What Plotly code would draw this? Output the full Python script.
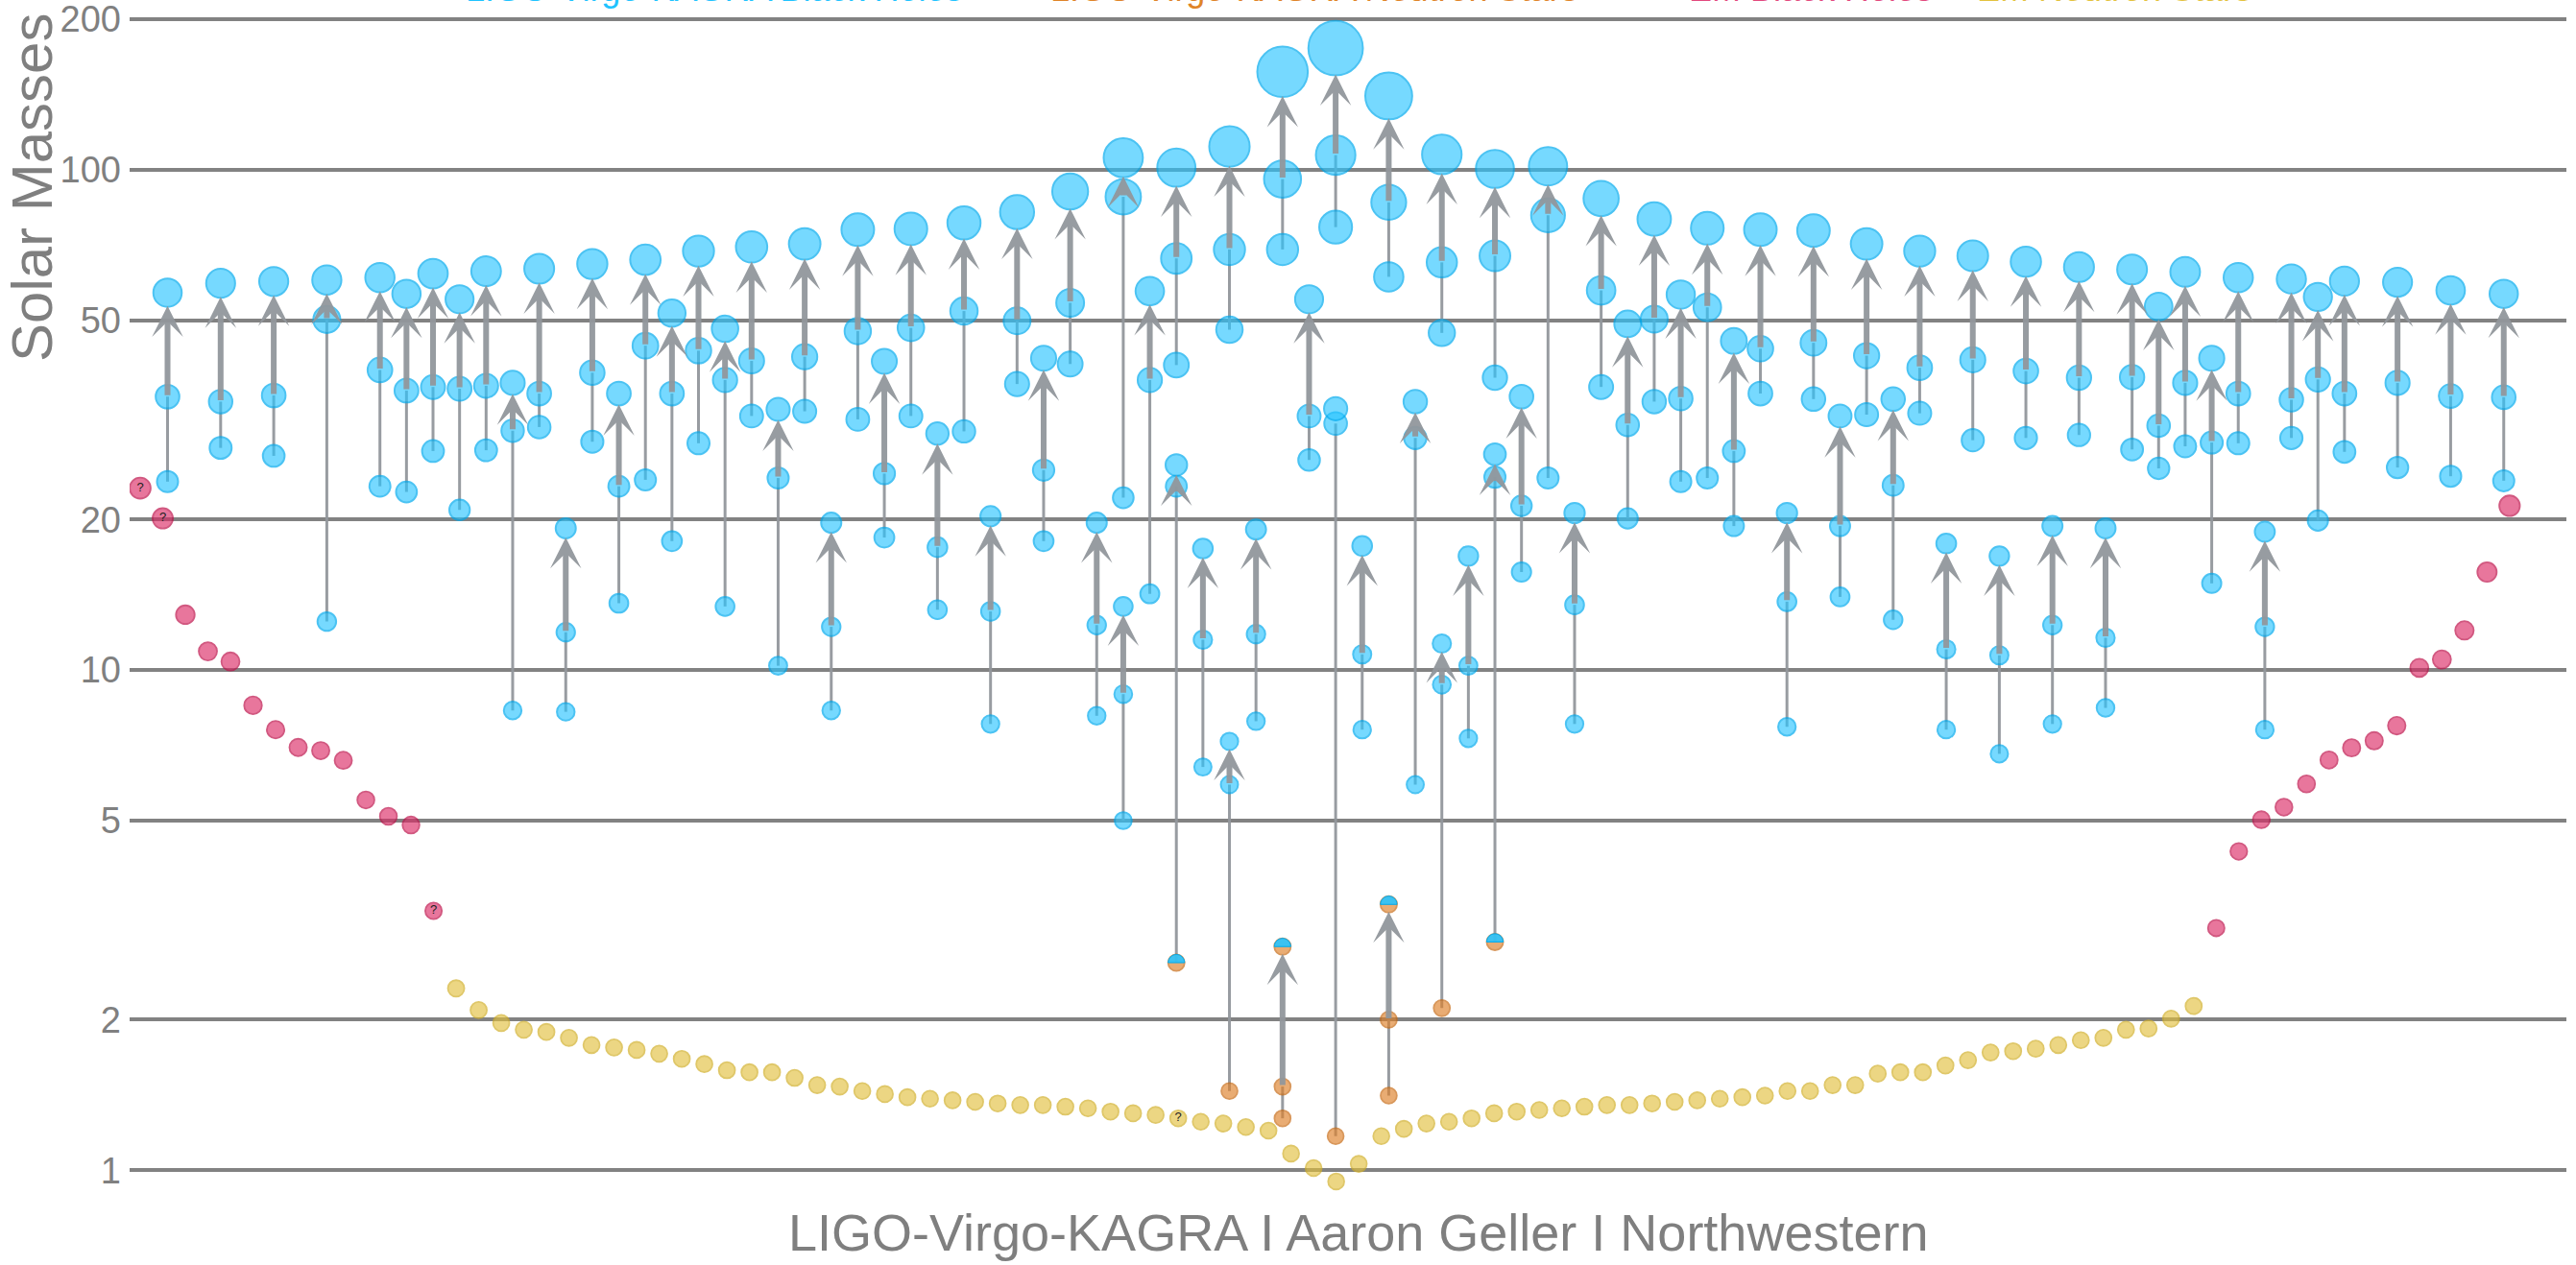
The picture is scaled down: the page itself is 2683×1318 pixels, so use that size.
import math
import plotly.graph_objects as go

# ---------------- data ----------------
tick_values = [1, 2, 5, 10, 20, 50, 100, 200]
tick_labels = ["1", "2", "5", "10", "20", "50", "100", "200"]

# LIGO-Virgo-KAGRA binary black hole mergers (column slot, final mass, primary, secondary)
bbh_slot = [0, 2, 4, 6, 8, 9, 10, 11, 12, 13, 14, 15, 16, 17, 18, 19, 20, 21, 22, 23,
            24, 25, 26, 27, 28, 29, 30, 31, 32, 33, 34, 35, 36, 36, 37, 38, 39, 40, 41, 42,
            43, 44, 45, 46, 47, 48, 49, 50, 51, 52, 53, 54, 55, 56, 57, 58, 59, 60, 61, 62,
            63, 64, 65, 66, 67, 68, 69, 70, 71, 72, 73, 74, 75, 76, 77, 78, 79, 80, 81, 82,
            84, 86, 88]
bbh_final = [56.8, 59.3, 59.8, 60.2, 60.9, 56.5, 62.0, 55.1, 62.7, 37.5, 63.4, 19.2, 64.8, 35.7, 66.1, 51.7, 68.8, 48.1, 70.1, 33.2,
             71.1, 19.7, 75.9, 41.4, 76.2, 29.7, 78.3, 20.3, 82.3, 42.0, 90.5, 19.7, 105.7, 13.4, 57.2, 101.0, 17.5, 111.3, 19.1, 157.0,
             55.1, 175.0, 17.7, 140.5, 34.4, 107.3, 16.9, 100.4, 35.2, 101.6, 20.6, 87.6, 49.2, 79.7, 56.3, 76.4, 45.5, 75.9, 20.6, 75.6,
             32.2, 71.1, 34.8, 68.8, 17.9, 67.3, 16.9, 65.5, 19.4, 63.9, 19.2, 63.2, 53.3, 62.5, 42.0, 60.9, 18.9, 60.5, 55.7, 59.9,
             59.6, 57.4, 56.5]
bbh_primary = [35.2, 34.4, 35.4, 50.2, 39.8, 36.2, 36.8, 36.5, 37.0, 30.1, 35.7, 11.9, 39.3, 23.3, 44.5, 35.7, 43.5, 38.0, 41.5, 24.2,
               42.3, 12.2, 47.6, 24.7, 48.3, 17.6, 52.2, 13.1, 49.9, 25.1, 54.2, 12.3, 88.3, 8.95, 38.0, 66.5, 11.5, 69.3, 11.8, 95.8,
               32.2, 107.0, 10.75, 86.1, 29.1, 65.3, 10.2, 67.3, 21.3, 81.1, 13.5, 57.4, 30.9, 50.3, 34.9, 53.1, 27.4, 43.9, 13.7, 45.1,
               19.4, 42.5, 23.4, 40.2, 11.0, 41.7, 10.7, 39.6, 12.3, 38.4, 11.6, 38.5, 30.8, 37.5, 28.5, 35.7, 12.2, 34.7, 38.1, 35.7,
               37.5, 35.3, 35.1]
bbh_secondary = [23.8, 27.8, 26.8, 12.5, 23.3, 22.7, 27.4, 20.9, 27.5, 8.3, 30.6, 8.25, 28.6, 13.6, 24.0, 18.1, 28.4, 13.4, 32.2, 10.2,
                 32.9, 8.3, 31.7, 18.4, 32.2, 13.2, 30.0, 7.8, 37.3, 18.1, 40.9, 8.1, 22.1, 5.0, 14.2, 40.7, 6.4, 47.9, 7.9, 69.3,
                 26.3, 76.8, 7.6, 61.1, 5.9, 47.2, 7.3, 38.4, 15.7, 24.2, 7.8, 36.8, 20.1, 34.4, 23.8, 24.2, 19.4, 35.7, 7.7, 34.8,
                 14.0, 32.4, 12.6, 32.6, 7.6, 28.8, 6.8, 29.1, 7.8, 29.5, 8.4, 27.6, 25.3, 28.0, 14.9, 28.4, 7.6, 29.1, 19.9, 27.3,
                 25.4, 24.4, 23.9]

# LIGO-Virgo-KAGRA events involving neutron stars or mass-gap objects
ns_slot = [38, 40, 42, 44, 46, 48, 50]
ns_final = [25.7, 7.2, 2.8, 33.3, 3.4, 11.3, 27.0]
ns_primary = [23.3, 5.9, 1.47, 31.1, 2.0, 9.35, 24.3]
ns_secondary = [2.6, 1.44, 1.27, 1.17, 1.41, 2.11, 2.86]
ns_final_kind = ["BH", "BH", "GAP", "BH", "GAP", "BH", "BH"]
ns_primary_kind = ["BH", "BH", "NS", "BH", "NS", "BH", "BH"]
ns_secondary_kind = ["GAP", "NS", "NS", "NS", "NS", "NS", "GAP"]

# Electromagnetically observed objects, left to right
em_bh_left = [23.1, 20.1, 12.9, 10.9, 10.4, 8.5, 7.6, 7.0, 6.9, 6.6, 5.5, 5.1, 4.9, 3.3]
em_ns = [2.31, 2.09, 1.97, 1.91, 1.89, 1.84, 1.78, 1.76, 1.74, 1.71, 1.67, 1.63, 1.585, 1.57, 1.57, 1.53, 1.48, 1.47, 1.44,
         1.42, 1.40, 1.39, 1.38, 1.37, 1.36, 1.35, 1.35, 1.34, 1.33, 1.31, 1.30, 1.29, 1.27, 1.25, 1.24, 1.22, 1.20, 1.08,
         1.01, 0.95, 1.03, 1.17, 1.21, 1.24, 1.25, 1.27, 1.30, 1.31, 1.32, 1.33, 1.34, 1.35, 1.35, 1.36, 1.37, 1.38, 1.39,
         1.40, 1.41, 1.44, 1.44, 1.48, 1.48, 1.56, 1.57, 1.57, 1.62, 1.66, 1.72, 1.73, 1.75, 1.78, 1.82, 1.84, 1.91, 1.92,
         2.01, 2.13]
em_bh_right = [3.05, 4.34, 5.02, 5.32, 5.92, 6.61, 6.99, 7.22, 7.74, 10.1, 10.5, 12.0, 15.7, 21.3]
em_uncertain = [0, 1, 13, 46]

legend_labels = ["LIGO-Virgo-KAGRA Black Holes", "LIGO-Virgo-KAGRA Neutron Stars",
                 "EM Black Holes", "EM Neutron Stars"]
credit_text = "LIGO-Virgo-KAGRA I Aaron Geller I Northwestern"
axis_title = "Solar Masses"

# ---------------- style ----------------
FONT = "Liberation Sans, Arial, Helvetica, sans-serif"
GRAY_TXT = "#7f7f7f"
BLUE = "rgba(40,196,255,0.9)"
BLUE_LINE = "rgba(0,170,238,1)"
ORANGE = "rgba(222,128,40,0.92)"
ORANGE_LINE = "rgba(200,108,22,1)"
PINK = "rgba(220,40,100,0.9)"
PINK_LINE = "rgba(190,18,75,1)"
YELLOW = "rgba(226,192,60,0.9)"
YELLOW_LINE = "rgba(210,176,42,1)"
ARROW = "rgba(146,151,156,0.95)"
EM_X0 = -1.03
EM_DX = 0.85


def dot_size(m):
    return 16.5 + 0.23 * m


# ---------------- assemble events ----------------
events = []
for s, f, p, q in zip(bbh_slot, bbh_final, bbh_primary, bbh_secondary):
    events.append((s, f, p, q, "BH", "BH", "BH"))
for s, f, p, q, kf, kp, kq in zip(ns_slot, ns_final, ns_primary, ns_secondary,
                                  ns_final_kind, ns_primary_kind, ns_secondary_kind):
    events.append((s, f, p, q, kf, kp, kq))

fig = go.Figure()

# thin connecting lines secondary -> primary
lx, ly = [], []
for s, f, p, q, *_ in events:
    lx += [s, s, None]
    ly += [q, p, None]
fig.add_trace(go.Scatter(x=lx, y=ly, mode="lines", line=dict(color=ARROW, width=3),
                         hoverinfo="skip"))

# EM points
em_mass = em_bh_left + em_ns + em_bh_right
em_x = [EM_X0 + EM_DX * j for j in range(len(em_mass))]
n_left = len(em_bh_left)
n_ns = len(em_ns)
bh_idx = list(range(n_left)) + list(range(n_left + n_ns, len(em_mass)))
ns_idx = list(range(n_left, n_left + n_ns))
fig.add_trace(go.Scatter(
    x=[em_x[j] for j in bh_idx], y=[em_mass[j] for j in bh_idx], mode="markers",
    marker=dict(color=PINK, size=[dot_size(em_mass[j]) for j in bh_idx],
                line=dict(color=PINK_LINE, width=1.8)), hoverinfo="skip"))
fig.add_trace(go.Scatter(
    x=[em_x[j] for j in ns_idx], y=[em_mass[j] for j in ns_idx], mode="markers",
    marker=dict(color=YELLOW, size=[dot_size(em_mass[j]) for j in ns_idx],
                line=dict(color=YELLOW_LINE, width=1.8)), hoverinfo="skip"))
fig.add_trace(go.Scatter(
    x=[em_x[j] for j in em_uncertain], y=[em_mass[j] for j in em_uncertain], mode="text",
    text=["?"] * len(em_uncertain), textfont=dict(size=13, color="#222222", family=FONT),
    hoverinfo="skip"))

# LVK markers
bx, by, bs = [], [], []
ox, oy, os_ = [], [], []
gap_points = []
for s, f, p, q, kf, kp, kq in events:
    for m, k in ((q, kq), (p, kp), (f, kf)):
        if k == "BH":
            bx.append(s); by.append(m); bs.append(dot_size(m))
        else:
            ox.append(s); oy.append(m); os_.append(dot_size(m))
            if k == "GAP":
                gap_points.append((s, m))

fig.add_trace(go.Scatter(x=bx, y=by, mode="markers",
                         marker=dict(color=BLUE, size=bs, line=dict(color=BLUE_LINE, width=2)),
                         hoverinfo="skip"))
fig.add_trace(go.Scatter(x=ox, y=oy, mode="markers",
                         marker=dict(color=ORANGE, size=os_, line=dict(color=ORANGE_LINE, width=1.8)),
                         hoverinfo="skip"))

# half blue tops for mass-gap objects
shapes = []
k = 0.5523
for s, m in gap_points:
    r = dot_size(m) / 2
    path = (f"M{-r:.2f},0 C{-r:.2f},{k*r:.2f} {-k*r:.2f},{r:.2f} 0,{r:.2f} "
            f"C{k*r:.2f},{r:.2f} {r:.2f},{k*r:.2f} {r:.2f},0 Z")
    shapes.append(dict(type="path", xref="x", yref="y", xsizemode="pixel", ysizemode="pixel",
                       xanchor=s, yanchor=m, path=path, fillcolor=BLUE,
                       line=dict(color=BLUE_LINE, width=1), layer="above"))

# arrows primary -> final
annotations = []
for s, f, p, q, *_ in events:
    annotations.append(dict(
        x=s, y=math.log10(f), ax=s, ay=math.log10(p), xref="x", yref="y", axref="x", ayref="y",
        text="", showarrow=True, arrowhead=3, arrowwidth=6, arrowsize=0.9,
        arrowcolor=ARROW, standoff=dot_size(f) / 2 - 1))

# legend texts (cropped at top of image)
PLOT_L, PLOT_W, H = 135, 2538, 1318
legend_colors = ["#1fc3ff", "#df8428", "#e2487e", "#e3c23e"]
legend_centers_px = [744, 1369, 1886, 2202]
for lab, col, cx in zip(legend_labels, legend_colors, legend_centers_px):
    annotations.append(dict(text=lab, xref="paper", yref="paper", x=(cx - PLOT_L) / PLOT_W,
                            y=1 + 11 / H, xanchor="center", yanchor="middle", showarrow=False,
                            font=dict(size=36, color=col, family=FONT)))

annotations.append(dict(text=credit_text, xref="paper", yref="paper", x=(1414 - PLOT_L) / PLOT_W,
                        y=(H - 1284) / H, xanchor="center", yanchor="middle", showarrow=False,
                        font=dict(size=54, color=GRAY_TXT, family=FONT)))
annotations.append(dict(text=axis_title, xref="paper", yref="paper", x=(34 - PLOT_L) / PLOT_W,
                        y=(H - 196) / H, xanchor="center", yanchor="middle", showarrow=False,
                        textangle=-90, font=dict(size=60, color=GRAY_TXT, family=FONT)))

fig.update_layout(
    width=2683, height=1318,
    margin=dict(l=135, r=10, t=0, b=0),
    plot_bgcolor="white", paper_bgcolor="white",
    showlegend=False,
    font=dict(family=FONT, color=GRAY_TXT),
    shapes=shapes,
    annotations=annotations,
    xaxis=dict(visible=False, range=[-1.4286, 90.36]),
    yaxis=dict(type="log", range=[-0.18937, 2.3394], tickvals=tick_values, ticktext=tick_labels,
               showgrid=True, gridcolor="#828282", gridwidth=3.5, zeroline=False, showline=False,
               ticks="", ticklabelstandoff=8, ticklabeloverflow="allow",
               tickfont=dict(size=38, color="#808080", family=FONT)),
)

fig.write_html("out.html", config={"displayModeBar": False},
               post_script="document.body.style.margin='0';document.body.style.overflow='hidden';")
